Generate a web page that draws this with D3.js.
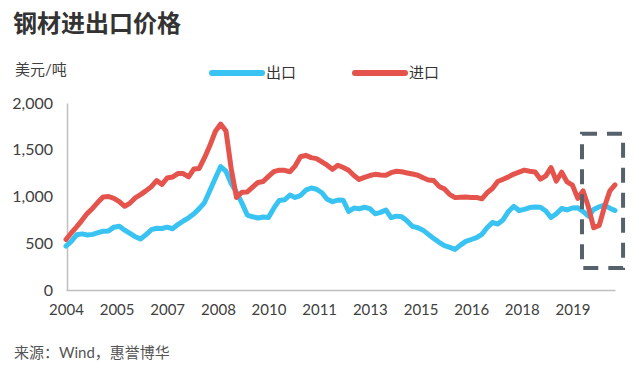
<!DOCTYPE html>
<html lang="zh">
<head>
<meta charset="UTF-8">
<title>钢材进出口价格</title>
<style>
  body { margin: 0; background: #fff; }
  svg text { font-family: Lato, "Noto Sans CJK SC", sans-serif; }
</style>
</head>
<body>
<div id="chart"></div>
<script src="https://cdn.jsdelivr.net/npm/d3@7"></script>
<script>
const w = 639;
const h = 371;

// bi-monthly samples, Jan 2004 .. Mar 2021
const months = d3.range(104).map(k => new Date(2004, 2 * k, 1));

// category axis shows a label every 19 months
const tickLabels = ['2004', '2005', '2007', '2008', '2010', '2011', '2013', '2015', '2016', '2018', '2019'];
const tickDates = tickLabels.map((d, i) => new Date(2004, i * 19, 1));

// 出口 (export) price, USD/t
const exportPrice = [
  470, 520, 590, 600, 588, 595, 614, 628, 632, 672,
  682, 640, 605, 570, 546, 590, 645, 660, 658, 672,
  655, 700, 738, 772, 815, 870, 935, 1065, 1195, 1320,
  1270, 1140, 1045, 932, 802, 783, 770, 781, 775, 875,
  958, 965, 1016, 990, 1010, 1068, 1091, 1078, 1040, 970,
  945, 962, 960, 840, 876, 868, 885, 870, 815, 830,
  856, 773, 790, 783, 738, 680, 666, 640, 595, 552,
  510, 475, 455, 434, 480, 520, 540, 560, 595, 665,
  722, 705, 752, 840, 895, 850, 862, 882, 888, 885,
  845, 775, 815, 872, 856, 877, 880, 840, 790, 862,
  890, 908, 875, 850
];

// 进口 (import) price, USD/t
const importPrice = [
  540, 610, 675, 745, 820, 875, 940, 996, 1000, 980,
  945, 895, 930, 985, 1020, 1060, 1105, 1170, 1130, 1198,
  1208, 1245, 1245, 1210, 1295, 1300, 1415, 1545, 1695, 1775,
  1700, 1300, 990, 1045, 1049, 1100, 1150, 1160, 1215, 1265,
  1282, 1280, 1265, 1325, 1425, 1440, 1416, 1405, 1370, 1335,
  1290, 1335, 1310, 1280, 1225, 1183, 1205, 1224, 1237, 1230,
  1228, 1255, 1270, 1265, 1252, 1240, 1228, 1200, 1177, 1170,
  1108, 1080, 1020, 988, 992, 995, 990, 990, 975, 1040,
  1085, 1160, 1185, 1210, 1240, 1260, 1282, 1270, 1263, 1185,
  1220, 1310, 1165, 1260, 1156, 1122, 980, 1060, 890, 665,
  690, 890, 1060, 1124
];

const yTicks = [0, 500, 1000, 1500, 2000];

// highlighted recent period
const highlight = { from: new Date(2020, 1, 18), to: new Date(2021, 5, 1), top: 1670, bottom: 235 };

const series = [
  { name: '出口', values: exportPrice, color: '#38c3f2' },
  { name: '进口', values: importPrice, color: '#e5544c' }
];

const xScale = d3.scaleTime()
  .domain([months[0], months[months.length - 1]])
  .range([66, 615]);

const yScale = d3.scaleLinear()
  .domain([0, 2000])
  .range([290, 103]);

const svg = d3.select('#chart')
  .append('svg')
  .attr('width', w)
  .attr('height', h);

// title and unit
svg.append('text')
  .attr('x', 13)
  .attr('y', 32)
  .style('font-size', '24px')
  .style('font-weight', 'bold')
  .style('fill', '#333')
  .text('钢材进出口价格');

svg.append('text')
  .attr('x', 15)
  .attr('y', 75)
  .style('font-size', '15px')
  .style('fill', '#404040')
  .text('美元/吨');

// axes
const xAxis = d3.axisBottom(xScale)
  .tickValues(tickDates)
  .tickFormat((d, i) => tickLabels[i])
  .tickSize(0)
  .tickPadding(14);

const yAxis = d3.axisLeft(yScale)
  .tickValues(yTicks)
  .tickFormat(d3.format(','))
  .tickSize(0)
  .tickPadding(14);

const gx = svg.append('g')
  .attr('transform', `translate(0, ${yScale(0)})`)
  .call(xAxis);
gx.select('.domain').attr('stroke', '#bfbfbf').attr('stroke-width', 1.5);
gx.selectAll('text')
  .style('font-size', '15px')
  .style('fill', '#404040');

const gy = svg.append('g')
  .attr('transform', `translate(${xScale(months[0]) + 1}, 0)`)
  .call(yAxis);
gy.select('.domain').attr('stroke', '#bfbfbf').attr('stroke-width', 1.5);
gy.selectAll('text')
  .style('font-size', '16px')
  .style('fill', '#404040');

// lines
const line = d3.line()
  .x((d, i) => xScale(months[i]))
  .y(d => yScale(d));

svg.selectAll('.series')
  .data(series)
  .enter()
  .append('path')
  .attr('class', 'series')
  .attr('d', d => line(d.values))
  .attr('fill', 'none')
  .attr('stroke', d => d.color)
  .attr('stroke-width', 5)
  .attr('stroke-linejoin', 'round')
  .attr('stroke-linecap', 'round');

// dashed highlight box
svg.append('rect')
  .attr('x', xScale(highlight.from))
  .attr('y', yScale(highlight.top))
  .attr('width', xScale(highlight.to) - xScale(highlight.from))
  .attr('height', yScale(highlight.bottom) - yScale(highlight.top))
  .attr('fill', 'none')
  .attr('stroke', '#56616b')
  .attr('stroke-width', 4)
  .attr('stroke-dasharray', '15,10');

// legend
const legend = svg.selectAll('.legend')
  .data(series)
  .enter()
  .append('g')
  .attr('class', 'legend')
  .attr('transform', (d, i) => `translate(${212 + i * 143}, 73)`);
legend.append('line')
  .attr('x1', 0)
  .attr('x2', 50)
  .attr('stroke', d => d.color)
  .attr('stroke-width', 6)
  .attr('stroke-linecap', 'round');
legend.append('text')
  .attr('x', 54)
  .attr('dy', '0.35em')
  .style('font-size', '15px')
  .style('fill', '#333')
  .text(d => d.name);

// source
svg.append('text')
  .attr('x', 14)
  .attr('y', 358)
  .style('font-size', '15px')
  .style('fill', '#555')
  .text('来源：Wind，惠誉博华');
</script>
</body>
</html>
